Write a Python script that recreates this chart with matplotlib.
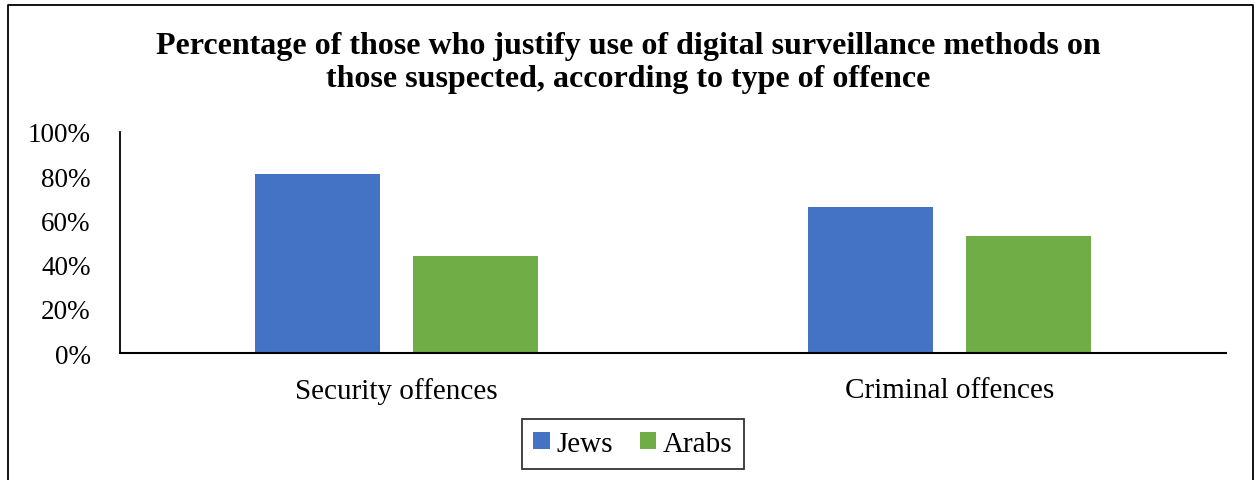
import numpy as np
import matplotlib
matplotlib.use('Agg')
import matplotlib.pyplot as plt
from matplotlib.lines import Line2D
from matplotlib.ticker import PercentFormatter

plt.rcParams['font.family'] = ['Liberation Serif', 'DejaVu Serif']

categories = ['Security offences', 'Criminal offences']
jews = [81, 66]
arabs = [44, 53]
series = ['Jews', 'Arabs']
colors = ['#4472C4', '#70AD47']
title = ('Percentage of those who justify use of digital surveillance methods on\n'
         'those suspected, according to type of offence')

fig = plt.figure(figsize=(12.57, 4.81), dpi=100)
ax = fig.add_axes([120/1257, 1 - 354/481, 1106/1257, 221/481])

x = np.arange(len(categories))
w = 0.226
off = 0.142
ax.bar(x - off, jews, w, color=colors[0], label=series[0])
ax.bar(x + off, arabs, w, color=colors[1], label=series[1])

ax.set_xlim(-0.5, 1.5)
ax.set_ylim(0, 100)
ax.set_yticks(range(0, 101, 20))
ax.yaxis.set_major_formatter(PercentFormatter(decimals=0))
ax.set_xticks(x)
ax.set_xticklabels(categories)
ax.tick_params(axis='y', length=0, pad=21, labelsize=19.5)
ax.tick_params(axis='x', length=0, pad=17, labelsize=21)
for s in ['top', 'right']:
    ax.spines[s].set_visible(False)
ax.spines['left'].set_linewidth(1.3)
ax.spines['bottom'].set_linewidth(1.5)

fig.text(0.5, 1 - 63/481, title, ha='center', va='center', fontsize=23,
         fontweight='bold', linespacing=1.22)

leg = fig.legend(loc='center', bbox_to_anchor=(633/1257, 1 - 445/481), ncol=2,
                 fontsize=21, frameon=True, fancybox=False, handlelength=0.55,
                 handleheight=0.55, handletextpad=0.25, columnspacing=0.9,
                 borderpad=0.4, borderaxespad=0)
leg.get_frame().set_edgecolor('black')
leg.get_frame().set_linewidth(1.3)

# outer chart border (bottom cut off)
bx0, bx1, by1 = 8/1257, 1253/1257, 1 - 5.5/481
fig.add_artist(Line2D([bx0, bx0, bx1, bx1], [-0.1, by1, by1, -0.1],
                      transform=fig.transFigure, color='black', lw=1.3))

fig.savefig('out.png', dpi=100)
